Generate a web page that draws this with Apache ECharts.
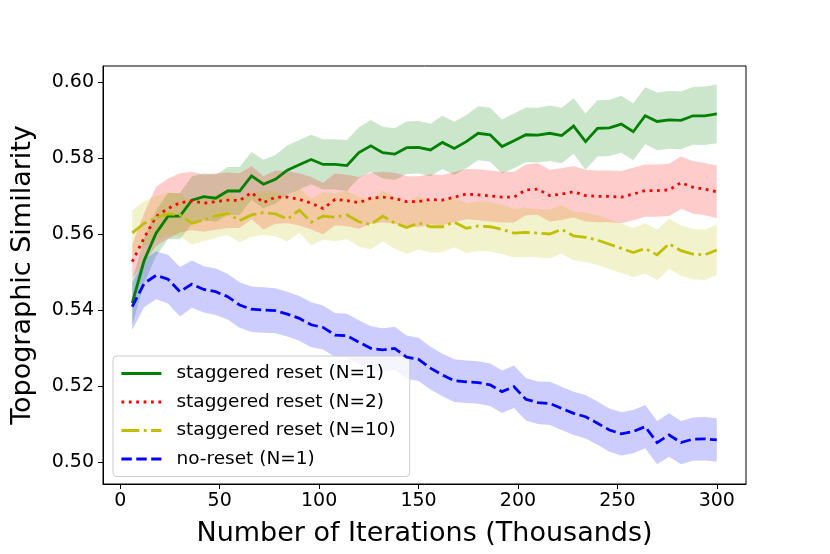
<!DOCTYPE html>
<html>
<head>
<meta charset="utf-8">
<script src="https://cdn.jsdelivr.net/npm/echarts@6/dist/echarts.min.js"></script>
<style>html,body{margin:0;padding:0;background:#fff}#c{width:830px;height:554px}</style>
</head>
<body>
<div id="c"></div>
<script>
// x positions (thousands of iterations)
const iterations = [6,12,18,24,30,36,42,48,54,60,66,72,78,84,90,96,102,108,114,120,126,132,138,144,150,156,162,168,174,180,186,192,198,204,210,216,222,228,234,240,246,252,258,264,270,276,282,288,294,300];

const seriesNames = ['staggered reset (N=1)','staggered reset (N=2)','staggered reset (N=10)','no-reset (N=1)'];

// means
const staggeredN1 = [0.5418,0.5530,0.5602,0.5647,0.5647,0.5689,0.5698,0.5694,0.5713,0.5713,0.5753,0.5731,0.5744,0.5768,0.5782,0.5796,0.5783,0.5783,0.5780,0.5814,0.5832,0.5814,0.5810,0.5827,0.5828,0.5821,0.5841,0.5825,0.5843,0.5865,0.5861,0.5830,0.5845,0.5861,0.5860,0.5865,0.5859,0.5884,0.5843,0.5878,0.5879,0.5889,0.5869,0.5911,0.5896,0.5900,0.5899,0.5911,0.5911,0.5916];
const staggeredN2 = [0.5527,0.5590,0.5646,0.5667,0.5682,0.5687,0.5681,0.5685,0.5689,0.5688,0.5709,0.5682,0.5697,0.5697,0.5691,0.5681,0.5667,0.5691,0.5688,0.5682,0.5694,0.5697,0.5694,0.5685,0.5685,0.5691,0.5689,0.5697,0.5705,0.5703,0.5700,0.5697,0.5697,0.5716,0.5718,0.5701,0.5705,0.5711,0.5701,0.5699,0.5699,0.5697,0.5705,0.5714,0.5714,0.5716,0.5735,0.5723,0.5718,0.5711];
const staggeredN10 = [0.5603,0.5628,0.5643,0.5653,0.5650,0.5628,0.5637,0.5647,0.5654,0.5635,0.5650,0.5656,0.5653,0.5639,0.5663,0.5631,0.5647,0.5644,0.5650,0.5632,0.5625,0.5647,0.5629,0.5617,0.5629,0.5619,0.5619,0.5631,0.5615,0.5621,0.5619,0.5612,0.5602,0.5604,0.5602,0.5600,0.5612,0.5595,0.5591,0.5584,0.5573,0.5562,0.5551,0.5562,0.5545,0.5574,0.5556,0.5547,0.5545,0.5558];
const noResetN1 = [0.5409,0.5470,0.5491,0.5481,0.5448,0.5468,0.5454,0.5448,0.5435,0.5413,0.5402,0.5400,0.5398,0.5389,0.5378,0.5361,0.5354,0.5334,0.5332,0.5315,0.5299,0.5295,0.5299,0.5276,0.5270,0.5247,0.5229,0.5214,0.5211,0.5209,0.5203,0.5185,0.5198,0.5165,0.5156,0.5154,0.5141,0.5128,0.5119,0.5102,0.5084,0.5074,0.5080,0.5093,0.5051,0.5071,0.5051,0.5060,0.5061,0.5058];

// half-widths of the shaded bands (std)
const stdN1 = [0.0058,0.0060,0.0060,0.0061,0.0061,0.0062,0.0062,0.0062,0.0063,0.0063,0.0063,0.0064,0.0064,0.0065,0.0065,0.0065,0.0066,0.0066,0.0067,0.0067,0.0068,0.0068,0.0068,0.0069,0.0069,0.0069,0.0070,0.0070,0.0070,0.0071,0.0071,0.0071,0.0072,0.0072,0.0072,0.0073,0.0073,0.0073,0.0074,0.0074,0.0074,0.0075,0.0075,0.0075,0.0076,0.0076,0.0076,0.0076,0.0077,0.0077];
const stdN2 = [0.0045,0.0065,0.0078,0.0079,0.0078,0.0077,0.0075,0.0074,0.0073,0.0072,0.0070,0.0070,0.0070,0.0069,0.0069,0.0069,0.0068,0.0068,0.0068,0.0068,0.0067,0.0067,0.0067,0.0067,0.0067,0.0066,0.0066,0.0066,0.0066,0.0067,0.0067,0.0067,0.0067,0.0067,0.0068,0.0068,0.0068,0.0068,0.0068,0.0068,0.0068,0.0069,0.0069,0.0069,0.0069,0.0069,0.0069,0.0069,0.0069,0.0069];
const stdN10 = [0.0059,0.0058,0.0057,0.0057,0.0056,0.0056,0.0056,0.0057,0.0057,0.0057,0.0058,0.0058,0.0059,0.0059,0.0060,0.0061,0.0062,0.0063,0.0064,0.0065,0.0066,0.0067,0.0068,0.0069,0.0070,0.0068,0.0067,0.0066,0.0065,0.0065,0.0065,0.0065,0.0064,0.0064,0.0064,0.0064,0.0064,0.0064,0.0065,0.0065,0.0065,0.0065,0.0065,0.0066,0.0066,0.0066,0.0066,0.0066,0.0066,0.0066];
const stdNoReset = [0.0062,0.0063,0.0063,0.0064,0.0065,0.0062,0.0061,0.0061,0.0060,0.0060,0.0060,0.0060,0.0059,0.0059,0.0059,0.0059,0.0058,0.0058,0.0058,0.0058,0.0058,0.0057,0.0057,0.0057,0.0057,0.0056,0.0056,0.0056,0.0056,0.0056,0.0056,0.0056,0.0056,0.0056,0.0056,0.0057,0.0057,0.0057,0.0057,0.0057,0.0057,0.0057,0.0057,0.0057,0.0057,0.0057,0.0057,0.0057,0.0057,0.0057];

// tick labels
const xTicks = [0,50,100,150,200,250,300];
const yTicks = [0.50,0.52,0.54,0.56,0.58,0.60];

const means = [staggeredN1, staggeredN2, staggeredN10, noResetN1];
const stds = [stdN1, stdN2, stdN10, stdNoReset];
const lineColors = ['#008000','#ff0000','#bfbf00','#0000ff'];
const bandColors = ['rgba(0,128,0,0.2)','rgba(255,0,0,0.2)','rgba(191,191,0,0.2)','rgba(0,0,255,0.2)'];
const lw = 2.8;
const dashes = ['solid',[2.8,4.6],[17.9,4.5,2.8,4.5],[10.4,4.5]];

const series = [];
// shaded bands: one polygon per series, mean ± std, via the axis scales
series.push({
  type:'custom', name:'bands', silent:true, z:1,
  data: means.map((m,k)=>[iterations[0], m[0], k]),
  encode:{x:0, y:1},
  renderItem:function(params, api){
    const k = api.value(2);
    const m = means[k], s = stds[k];
    const upper = iterations.map((x,i)=>api.coord([x, m[i]+s[i]]));
    const lower = iterations.map((x,i)=>api.coord([x, m[i]-s[i]])).reverse();
    return {type:'polygon', shape:{points:upper.concat(lower)}, style:{fill:bandColors[k], stroke:'none'}};
  },
  animation:false
});
means.forEach((m, k) => {
  series.push({
    type:'line', name:seriesNames[k], symbol:'none', showSymbol:false, silent:true,
    data: iterations.map((x,i)=>[x, m[i]]),
    itemStyle:{color:lineColors[k]},
    lineStyle:{color:lineColors[k], width:lw, type:dashes[k], cap:'butt', join:'miter'},
    z:3+k, animation:false
  });
});

const font = 'DejaVu Sans';
const chart = echarts.init(document.getElementById('c'), null, {renderer:'canvas'});
chart.setOption({
  animation:false,
  backgroundColor:'#ffffff',
  grid:{left:103, right:84, top:66, bottom:70, show:true, borderColor:'#000', borderWidth:1, backgroundColor:'transparent'},
  xAxis:{
    type:'value', min:-8.7, max:314.7,
    name:'Number of Iterations (Thousands)', nameLocation:'middle', nameGap:36,
    nameTextStyle:{fontFamily:font, fontSize:27, color:'#000'},
    axisLine:{show:true, onZero:false, lineStyle:{color:'#000', width:1}},
    axisTick:{show:true, length:5, lineStyle:{color:'#000', width:1}, customValues:xTicks},
    axisLabel:{color:'#000', fontFamily:font, fontSize:19, margin:8, customValues:xTicks, formatter:v=>String(v)},
    splitLine:{show:false}
  },
  yAxis:{
    type:'value', min:0.4942, max:0.6042,
    name:'Topographic Similarity', nameLocation:'middle', nameGap:67,
    nameTextStyle:{fontFamily:font, fontSize:27, color:'#000'},
    axisLine:{show:true, onZero:false, lineStyle:{color:'#000', width:1}},
    axisTick:{show:true, length:5, lineStyle:{color:'#000', width:1}, customValues:yTicks},
    axisLabel:{color:'#000', fontFamily:font, fontSize:19, margin:9, customValues:yTicks, formatter:v=>v.toFixed(2)},
    splitLine:{show:false}
  },
  legend:{
    data:seriesNames, orient:'vertical', left:113, top:356,
    itemWidth:40, itemHeight:14, itemGap:9.5,
    padding:[8,14,8,7],
    backgroundColor:'rgba(255,255,255,0.8)', borderColor:'#cccccc', borderWidth:1, borderRadius:4,
    itemStyle:{opacity:0},
    lineStyle:{width:2.8},
    textStyle:{fontFamily:font, fontSize:18.5, color:'#000', padding:[0,0,0,10]},
    selectedMode:false
  },
  series:series
});
</script>
</body>
</html>
